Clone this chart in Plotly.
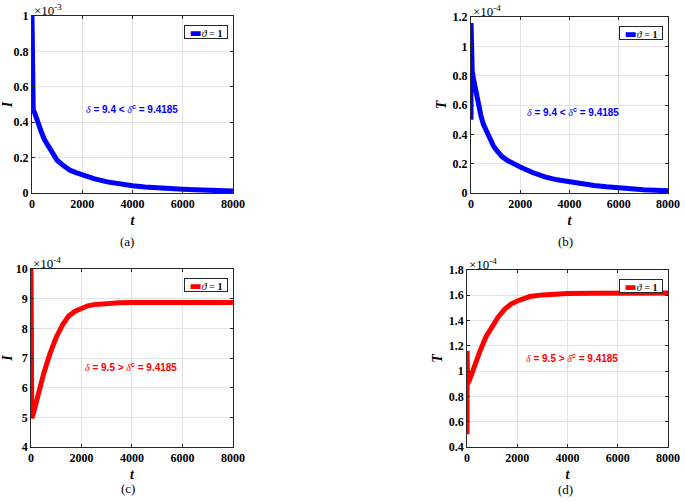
import plotly.graph_objects as go

# ---- data (values in units of the axis multiplier) ----
t_a = [0, 5, 50, 100, 150, 200, 250, 300, 400, 500, 600, 750, 900, 1000, 1250, 1500, 1750,
       2000, 2500, 3000, 3500, 4000, 4500, 5000, 5500, 6000, 6500, 7000, 7500, 8000]
I_a = [1.0, 0.487, 0.47, 0.455, 0.432, 0.41, 0.39, 0.37, 0.335, 0.30, 0.275, 0.235, 0.205,
       0.185, 0.155, 0.13, 0.115, 0.102, 0.08, 0.063, 0.05, 0.041, 0.034, 0.028, 0.024,
       0.021, 0.018, 0.015, 0.013, 0.011]

t_b = [0, 2, 20, 50, 100, 150, 200, 300, 400, 500, 600, 750, 900, 1000, 1250, 1500, 1750,
       2000, 2500, 3000, 3500, 4000, 4500, 5000, 5500, 6000, 6500, 7000, 7500, 8000]
T_b = [0.5, 1.16, 0.87, 0.83, 0.78, 0.73, 0.68, 0.60, 0.53, 0.47, 0.43, 0.37, 0.325, 0.30,
       0.25, 0.22, 0.195, 0.178, 0.14, 0.11, 0.09, 0.075, 0.062, 0.051, 0.042, 0.034,
       0.028, 0.023, 0.019, 0.015]

t_c = [0, 30, 100, 250, 500, 750, 1000, 1250, 1500, 1750, 2000, 2250, 2500, 3000, 3500,
       4000, 5000, 6000, 7000, 8000]
I_c = [10.0, 4.97, 5.15, 5.68, 6.47, 7.15, 7.7, 8.12, 8.42, 8.58, 8.69, 8.76, 8.8, 8.85,
       8.865, 8.87, 8.875, 8.875, 8.875, 8.875]

t_d = [0, 3, 20, 100, 250, 500, 750, 1000, 1250, 1500, 1750, 2000, 2500, 3000, 3500,
       4000, 5000, 6000, 7000, 8000]
T_d = [0.5, 1.16, 0.9, 0.93, 1.02, 1.15, 1.27, 1.36, 1.43, 1.49, 1.53, 1.555, 1.59, 1.603,
       1.61, 1.613, 1.616, 1.617, 1.617, 1.617]

x_ticks = [0, 2000, 4000, 6000, 8000]
y_ticks_a = [0, 0.2, 0.4, 0.6, 0.8, 1]
y_ticks_b = [0, 0.2, 0.4, 0.6, 0.8, 1, 1.2]
y_ticks_c = [4, 5, 6, 7, 8, 9, 10]
y_ticks_d = [0.4, 0.6, 0.8, 1, 1.2, 1.4, 1.6, 1.8]

y_titles = ["I", "T", "I", "T"]
exponents = ["-3", "-4", "-4", "-4"]
captions = ["(a)", "(b)", "(c)", "(d)"]
delta_labels = [("9.4", "&lt;"), ("9.4", "&lt;"), ("9.5", "&gt;"), ("9.5", "&gt;")]
delta_c = "9.4185"
legend_label = "1"

BLUE = "#0000FF"
RED = "#FF0000"

panels = [
    dict(t=t_a, y=I_a, color=BLUE, yr=[0, 1], yt=y_ticks_a,
         xd=[0.0467, 0.340], yd=[0.6155, 0.968], tx=0.497, ty=0.475),
    dict(t=t_b, y=T_b, color=BLUE, yr=[0, 1.2], yt=y_ticks_b,
         xd=[0.6876, 0.9752], yd=[0.6155, 0.966], tx=0.518, ty=0.46),
    dict(t=t_c, y=I_c, color=RED, yr=[4, 10], yt=y_ticks_c,
         xd=[0.0453, 0.340], yd=[0.1096, 0.4641], tx=0.497, ty=0.449),
    dict(t=t_d, y=T_d, color=RED, yr=[0.4, 1.8], yt=y_ticks_d,
         xd=[0.6818, 0.9752], yd=[0.1096, 0.4622], tx=0.522, ty=0.503),
]
caption_pos = [(0.185, 0.518), (0.826, 0.518), (0.187, 0.027), (0.826, 0.025)]

SERIF = "Liberation Serif"
SANS = "Liberation Sans"
AXIS_COLOR = "#262626"
GRID = "#e3e3e3"

fig = go.Figure()
annotations = []
for i, p in enumerate(panels):
    n = "" if i == 0 else str(i + 1)
    xa, ya = "x" + n, "y" + n
    fig.add_trace(go.Scatter(x=p["t"], y=p["y"], mode="lines", xaxis=xa, yaxis=ya,
                             line=dict(color=p["color"], width=5),
                             showlegend=False, name="ϑ = 1"))
    common = dict(showline=True, linecolor=AXIS_COLOR, linewidth=1, mirror="ticks",
                  ticks="inside", ticklen=3, tickcolor=AXIS_COLOR, automargin=False,
                  showgrid=True, gridcolor=GRID, gridwidth=1, zeroline=False,
                  tickfont=dict(family=SERIF, size=12, color="black", weight="bold"))
    fig.update_layout(**{
        "xaxis" + n: dict(domain=p["xd"], range=[0, 8000], tickvals=x_ticks,
                          anchor=ya,
                          title=dict(text="<i>t</i>", standoff=4,
                                     font=dict(family=SERIF, size=14, color="black", weight="bold")),
                          **common),
        "yaxis" + n: dict(domain=p["yd"], range=p["yr"], tickvals=p["yt"],
                          anchor=xa,
                          title=dict(text="<i>" + y_titles[i] + "</i>", standoff=2,
                                     font=dict(family=SERIF, size=14, color="black", weight="bold")),
                          **common),
    })
    xdom, ydom = xa + " domain", ya + " domain"
    # exponent multiplier
    annotations.append(dict(xref=xdom, yref=ydom, x=0, y=1, xanchor="left", yanchor="bottom",
                            text="×10<sup>" + exponents[i] + "</sup>", showarrow=False,
                            font=dict(family=SERIF, size=13, color="black"), yshift=-4))
    # delta annotation
    v, op = delta_labels[i]
    dtxt = ('<span style="font-family:Liberation Serif;font-weight:normal"><i>δ</i></span>'
            + " = " + v + " " + op + ' <span style="font-family:Liberation Serif;font-weight:normal"><i>δ</i></span>'
            + "<sup>c</sup> = " + delta_c)
    annotations.append(dict(xref=xdom, yref=ydom, x=p["tx"], y=p["ty"], xanchor="center",
                            yanchor="middle", text=dtxt, showarrow=False,
                            font=dict(family=SANS, size=10, color=p["color"], weight="bold")))
    # legend box
    ltxt = ('<span style="color:' + p["color"] + ';font-family:DejaVu Sans;font-size:13px">▬</span>'
            + '<i>ϑ</i> = <b>' + legend_label + '</b>')
    annotations.append(dict(xref=xdom, yref=ydom, x=1, y=1, xanchor="right", yanchor="top",
                            xshift=-5, yshift=-9, text=ltxt, showarrow=False,
                            width=42, height=12, align="center", valign="middle",
                            bordercolor=AXIS_COLOR, borderwidth=1, borderpad=0, bgcolor="white",
                            font=dict(family=SERIF, size=10, color="black")))
    # caption
    cx, cy = caption_pos[i]
    annotations.append(dict(xref="paper", yref="paper", x=cx, y=cy, xanchor="center",
                            yanchor="middle", text=captions[i], showarrow=False,
                            font=dict(family=SERIF, size=13, color="black")))

fig.update_layout(width=685, height=502, margin=dict(l=0, r=0, t=0, b=0),
                  paper_bgcolor="white", plot_bgcolor="white",
                  annotations=annotations, showlegend=False)
fig.write_html("out.html", config={"displayModeBar": False},
               post_script="document.body.style.margin='0';document.body.style.padding='0';")
